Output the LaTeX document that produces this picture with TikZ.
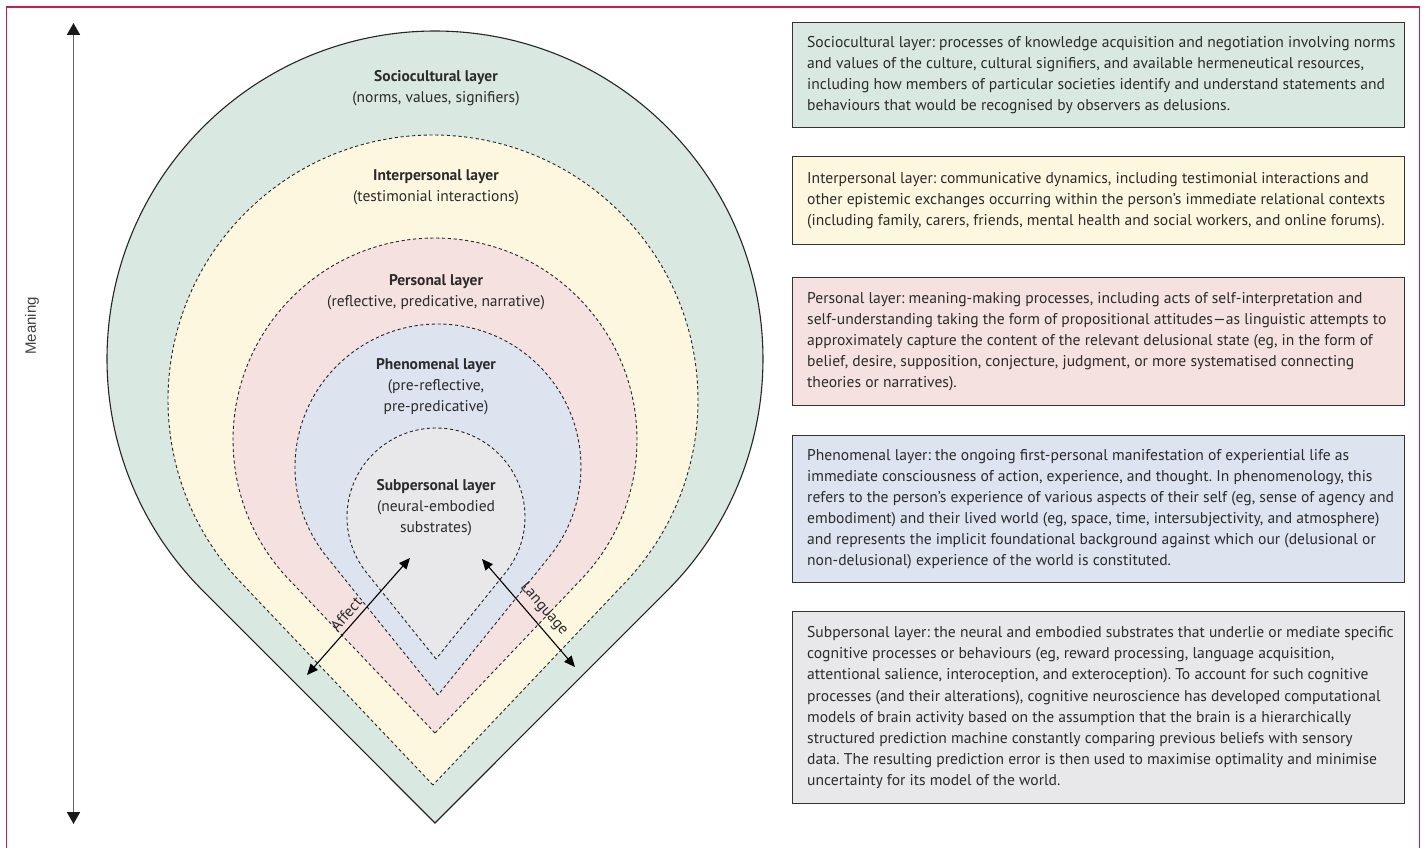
\documentclass[tikz,border=0pt]{standalone}
\usepackage{fontspec}
\setmainfont{PT Sans}
\newfontfamily\meanfont{Liberation Sans}
\usetikzlibrary{arrows.meta}
\definecolor{cSoc}{HTML}{D9E8E1}
\definecolor{cInt}{HTML}{FDF7E0}
\definecolor{cPer}{HTML}{F5E1E0}
\definecolor{cPhe}{HTML}{DDE3EF}
\definecolor{cSub}{HTML}{E8E8EA}
\definecolor{cFrame}{HTML}{C4204F}
\definecolor{cText}{HTML}{2B2B2B}
\newcommand{\boxfont}{\fontsize{15.6}{21.1}\selectfont}
\newcommand{\labfont}{\fontsize{15.5}{21}\selectfont}
\newcommand{\mydrop}[5]{%
  \pgfmathsetmacro\dal{asin(#3/(#4-#2))}%
  \pgfmathsetmacro\dlx{#1-#3*cos(\dal)}%
  \pgfmathsetmacro\dly{#2+#3*sin(\dal)}%
  \path[#5] (#1,#4) -- (\dlx,\dly) arc[start angle={180-\dal}, end angle={360+\dal}, radius=#3] -- cycle;%
}
\tikzset{
  outerline/.style={draw=black!85, line width=1.1pt},
  layerline/.style={draw=black!85, line width=0.9pt, dash pattern=on 3.2pt off 2.6pt},
  boxshape/.style={draw=black!80, line width=1.2pt, anchor=north west, minimum width=612pt, inner sep=0pt},
  boxtext/.style={anchor=west, align=left, font=\boxfont, text=cText, inner sep=0pt},
  lab/.style={align=center, font=\labfont, text=cText, inner sep=0pt},
  dblarrow/.style={draw=black, line width=1.1pt, {Triangle[width=9.5pt,length=11pt]}-{Triangle[width=9.5pt,length=11pt]}},
  sidelab/.style={font=\labfont, text=cText, inner sep=0pt},
  meanarrow/.style={draw=black!60, line width=1.8pt, {Triangle[width=13pt,length=12pt,color=black!90]}-{Triangle[width=13pt,length=12pt,color=black!90]}}
}
\begin{document}
\frenchspacing
\begin{tikzpicture}[x=1pt,y=-1pt]
\useasboundingbox (0,0) rectangle (1422,848);
% frame
\draw[cFrame, line width=1.4pt] (6.5,848) -- (6.5,7) -- (1419.5,7) -- (1419.5,848);
% meaning axis
\coordinate (mtop) at (73.5,23);
\coordinate (mbot) at (73.5,824);
\draw[meanarrow] (mtop) -- (mbot);
\node[rotate=90, font=\meanfont\fontsize{15}{18}\selectfont, text=black!75] (meaning) at (32,326) {Meaning};
% layers
\mydrop{435}{359}{328}{823}{fill=cSoc, outerline}
\mydrop{433}{400}{265}{785}{fill=cInt, layerline}
\mydrop{435}{440}{202}{733}{fill=cPer, layerline}
\mydrop{438}{467}{143}{695}{fill=cPhe, layerline}
\mydrop{436}{517}{89}{659}{fill=cSub, layerline}
% layer labels
\node[lab] (lsoc) at (436,88.5) {\textbf{Sociocultural layer}\\(norms, values, signifiers)};
\node[lab] (lint) at (436,187.5) {\textbf{Interpersonal layer}\\(testimonial interactions)};
\node[lab] (lper) at (436,292) {\textbf{Personal layer}\\(reflective, predicative, narrative)};
\node[lab] (lphe) at (436,387) {\textbf{Phenomenal layer}\\(pre-reflective,\\pre-predicative)};
\node[lab] (lsub) at (436,508) {\textbf{Subpersonal layer}\\(neural-embodied\\substrates)};
% affect / language arrows
\coordinate (a1) at (410,558);
\coordinate (a2) at (307,675);
\draw[dblarrow] (a1) -- (a2);
\node[sidelab, rotate=48.6] (affect) at (346,614) {Affect};
\coordinate (l1) at (482,559);
\coordinate (l2) at (575,667);
\draw[dblarrow] (l1) -- (l2);
\node[sidelab, rotate=-49.3] (language) at (544,609) {Language};
% text boxes
\node[boxshape, fill=cSoc, minimum height=105pt] (bsoc) at (792,22) {};
\node[boxtext] (tsoc) at ([xshift=15pt]bsoc.west) {Sociocultural layer: processes of knowledge acquisition and negotiation involving norms\\and values of the culture, cultural signifiers, and available hermeneutical resources,\\including how members of particular societies identify and understand statements and\\behaviours that would be recognised by observers as delusions.};
\node[boxshape, fill=cInt, minimum height=88pt] (bint) at (792,156) {};
\node[boxtext] (tint) at ([xshift=15pt]bint.west) {Interpersonal layer: communicative dynamics, including testimonial interactions and\\other epistemic exchanges occurring within the person’s immediate relational contexts\\(including family, carers, friends, mental health and social workers, and online forums).};
\node[boxshape, fill=cPer, minimum height=128pt] (bper) at (792,277) {};
\node[boxtext] (tper) at ([xshift=15pt]bper.west) {Personal layer: meaning-making processes, including acts of self-interpretation and\\self-understanding taking the form of propositional attitudes—as linguistic attempts to\\approximately capture the content of the relevant delusional state (eg, in the form of\\belief, desire, supposition, conjecture, judgment, or more systematised connecting\\theories or narratives).};
\node[boxshape, fill=cPhe, minimum height=147pt] (bphe) at (792,435) {};
\node[boxtext] (tphe) at ([xshift=15pt]bphe.west) {Phenomenal layer: the ongoing first-personal manifestation of experiential life as\\immediate consciousness of action, experience, and thought. In phenomenology, this\\refers to the person’s experience of various aspects of their self (eg, sense of agency and\\embodiment) and their lived world (eg, space, time, intersubjectivity, and atmosphere)\\and represents the implicit foundational background against which our (delusional or\\non-delusional) experience of the world is constituted.};
\node[boxshape, fill=cSub, minimum height=192pt] (bsub) at (792,611) {};
\node[boxtext] (tsub) at ([xshift=15pt]bsub.west) {Subpersonal layer: the neural and embodied substrates that underlie or mediate specific\\cognitive processes or behaviours (eg, reward processing, language acquisition,\\attentional salience, interoception, and exteroception). To account for such cognitive\\processes (and their alterations), cognitive neuroscience has developed computational\\models of brain activity based on the assumption that the brain is a hierarchically\\structured prediction machine constantly comparing previous beliefs with sensory\\data. The resulting prediction error is then used to maximise optimality and minimise\\uncertainty for its model of the world.};
\end{tikzpicture}
\end{document}
